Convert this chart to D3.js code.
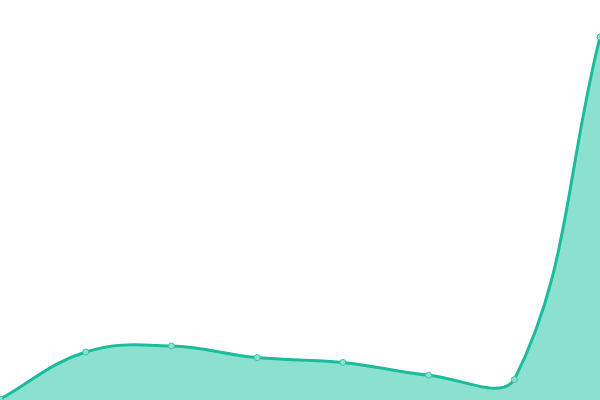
<!DOCTYPE html>
<html><head><meta charset="utf-8">
<script src="https://cdn.jsdelivr.net/npm/d3@7"></script>
<style>html,body{margin:0;padding:0;background:#fff;overflow:hidden}</style>
</head><body>
<svg id="c" width="600" height="400"></svg>
<script>
const categories = ["1","2","3","4","5","6","7","8"];
const values = [0.2, 12, 13.5, 10.6, 9.4, 6.2, 5.1, 90.75];

const W = 600, H = 400;
const svg = d3.select("#c");
const x = d3.scalePoint().domain(categories).range([0, W]);
const y = d3.scaleLinear().domain([0, 100]).range([H, 0]);
const data = categories.map((c, i) => ({c, v: values[i]}));

// Spline with tension, control points capped to the plot area
function makeCurve(tension, x0, y0, x1, y1) {
  function C(ctx) { this._context = ctx; }
  C.prototype = {
    areaStart() { this._line = 0; },
    areaEnd() { this._line = NaN; },
    lineStart() { this._pts = []; },
    point(px, py) { this._pts.push([+px, +py]); },
    lineEnd() {
      const p = this._pts, n = p.length, ctx = this._context;
      if (n) {
        if (this._line) ctx.lineTo(p[0][0], p[0][1]); else ctx.moveTo(p[0][0], p[0][1]);
        const cp = p.map((m, i) => {
          const a = p[i - 1] || m, b = p[i + 1] || m;
          const d01 = Math.hypot(m[0] - a[0], m[1] - a[1]);
          const d12 = Math.hypot(b[0] - m[0], b[1] - m[1]);
          let s01 = d01 / (d01 + d12), s12 = d12 / (d01 + d12);
          if (!isFinite(s01)) s01 = 0; if (!isFinite(s12)) s12 = 0;
          const fa = tension * s01, fb = tension * s12;
          const cl = (v, lo, hi) => Math.max(lo, Math.min(hi, v));
          return {
            px: cl(m[0] - fa * (b[0] - a[0]), x0, x1), py: cl(m[1] - fa * (b[1] - a[1]), y0, y1),
            nx: cl(m[0] + fb * (b[0] - a[0]), x0, x1), ny: cl(m[1] + fb * (b[1] - a[1]), y0, y1)
          };
        });
        for (let i = 1; i < n; i++) {
          ctx.bezierCurveTo(cp[i-1].nx, cp[i-1].ny, cp[i].px, cp[i].py, p[i][0], p[i][1]);
        }
      }
      if (this._line || (this._line !== 0 && n === 1)) ctx.closePath();
      this._line = 1 - this._line;
    }
  };
  return ctx => new C(ctx);
}
const curve = makeCurve(0.4, 0, 0, W, H);

svg.append("path").datum(data)
  .attr("d", d3.area().x(d => x(d.c)).y0(H).y1(d => y(d.v)).curve(curve))
  .attr("fill", "#8ce0cf");
svg.append("path").datum(data)
  .attr("d", d3.line().x(d => x(d.c)).y(d => y(d.v)).curve(curve))
  .attr("fill", "none").attr("stroke", "#1abc9c").attr("stroke-width", 3);
svg.selectAll("circle").data(data).join("circle")
  .attr("cx", d => x(d.c)).attr("cy", d => y(d.v)).attr("r", 3)
  .attr("fill", "#8ce0cf").attr("stroke", "#3cc6a8").attr("stroke-width", 1);
</script>
</body></html>
